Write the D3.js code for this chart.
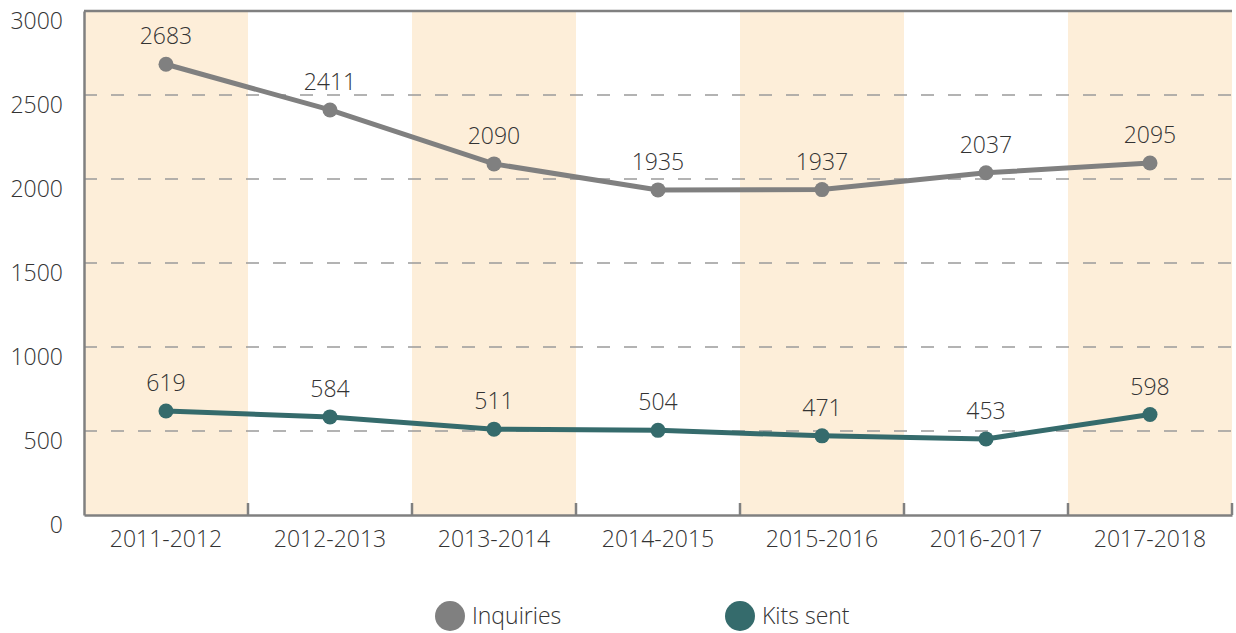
<!DOCTYPE html>
<html>
<head>
<meta charset="utf-8">
<script src="https://cdn.jsdelivr.net/npm/d3@7"></script>
<style>
  body { margin: 0; background: #fff; }
  text { font-family: "Open Sans", sans-serif; font-weight: 300; fill: #333; }
</style>
</head>
<body>
<svg id="chart" width="1236" height="633"></svg>
<script>
// chart data
const years = ["2011-2012", "2012-2013", "2013-2014", "2014-2015", "2015-2016", "2016-2017", "2017-2018"];
const inquiries = [2683, 2411, 2090, 1935, 1937, 2037, 2095];
const kitsSent = [619, 584, 511, 504, 471, 453, 598];
const yTicks = [0, 500, 1000, 1500, 2000, 2500, 3000];
const seriesNames = ["Inquiries", "Kits sent"];

const colors = { "Inquiries": "#808080", "Kits sent": "#356b6c" };

const margin = { top: 11, right: 4, bottom: 118, left: 84 },
  width = 1236 - margin.left - margin.right,
  height = 633 - margin.top - margin.bottom;

const svg = d3.select("#chart")
  .append("g")
  .attr("transform", `translate(${margin.left},${margin.top})`);

const x = d3.scaleBand().domain(years).range([0, width]);
const y = d3.scaleLinear().domain([0, 3000]).range([height, 0]);

// alternating shaded columns
svg.selectAll("rect.band")
  .data(years.filter((d, i) => i % 2 === 0))
  .join("rect")
  .attr("class", "band")
  .attr("x", d => x(d))
  .attr("y", y(3000))
  .attr("width", x.bandwidth())
  .attr("height", y(0) - y(3000))
  .attr("fill", "#fdeed9");

// dashed gridlines
svg.selectAll("line.grid")
  .data(yTicks.filter(t => t > 0 && t < 3000))
  .join("line")
  .attr("class", "grid")
  .attr("x1", 0).attr("x2", width)
  .attr("y1", d => y(d)).attr("y2", d => y(d))
  .attr("stroke", "#9a9a9a")
  .attr("stroke-width", 1.3)
  .attr("stroke-dasharray", "13,14");

// top border
svg.append("line")
  .attr("x1", 0).attr("x2", width)
  .attr("y1", y(3000)).attr("y2", y(3000))
  .attr("stroke", "#808080").attr("stroke-width", 2.5);

// y axis
const yAxis = svg.append("g")
  .call(d3.axisLeft(y).tickValues(yTicks).tickFormat(d3.format("d")).tickSize(0).tickPadding(21));
yAxis.select(".domain").attr("stroke", "#808080").attr("stroke-width", 2.5);
yAxis.selectAll("text").style("font-size", "23px").attr("fill", "#333")
  .attr("dy", "0.75em")
  .attr("font-family", "Open Sans").attr("font-weight", 300);

// x axis with boundary ticks
const xAxis = svg.append("g")
  .attr("transform", `translate(0,${height})`)
  .call(d3.axisBottom(x).tickSize(0).tickPadding(16));
xAxis.select(".domain").attr("stroke", "#808080").attr("stroke-width", 2.5);
xAxis.selectAll("text").style("font-size", "23px").attr("fill", "#333")
  .attr("font-family", "Open Sans").attr("font-weight", 300);
xAxis.selectAll("line.bound")
  .data(years.slice(1).map(d => x(d)).concat([width]))
  .join("line")
  .attr("class", "bound")
  .attr("x1", d => d).attr("x2", d => d)
  .attr("y1", 0).attr("y2", -12)
  .attr("stroke", "#808080").attr("stroke-width", 2.5);

const series = [
  { name: "Inquiries", values: inquiries },
  { name: "Kits sent", values: kitsSent }
];

const line = d3.line()
  .x((d, i) => x(years[i]) + x.bandwidth() / 2)
  .y(d => y(d));

series.forEach(s => {
  svg.append("path")
    .datum(s.values)
    .attr("fill", "none")
    .attr("stroke", colors[s.name])
    .attr("stroke-width", 5)
    .attr("d", line);

  svg.selectAll(null)
    .data(s.values)
    .join("circle")
    .attr("cx", (d, i) => x(years[i]) + x.bandwidth() / 2)
    .attr("cy", d => y(d))
    .attr("r", 7.5)
    .attr("fill", colors[s.name]);

  svg.selectAll(null)
    .data(s.values)
    .join("text")
    .attr("x", (d, i) => x(years[i]) + x.bandwidth() / 2)
    .attr("y", d => y(d) - 20)
    .attr("text-anchor", "middle")
    .style("font-size", "23px")
    .text(d => d);
});

// legend
const legendX = [450, 740];
const legend = d3.select("#chart").selectAll("g.legend")
  .data(seriesNames)
  .join("g")
  .attr("class", "legend")
  .attr("transform", (d, i) => `translate(${legendX[i]},616)`);
legend.append("circle")
  .attr("r", 15)
  .attr("fill", d => colors[d]);
legend.append("text")
  .attr("x", 22)
  .attr("dy", "0.35em")
  .style("font-size", "23px")
  .text(d => d);
</script>
</body>
</html>
